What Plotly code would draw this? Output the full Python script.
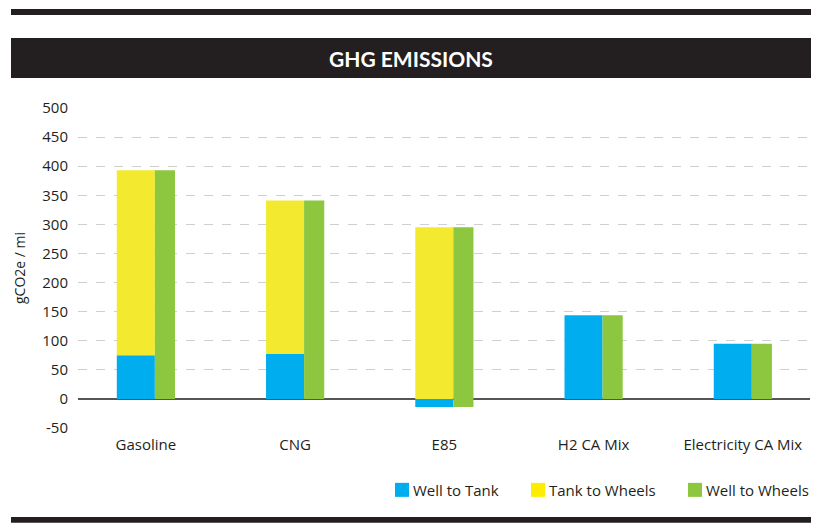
import plotly.graph_objects as go

categories = ["Gasoline", "CNG", "E85", "H2 CA Mix", "Electricity CA Mix"]
series_names = ["Well to Tank", "Tank to Wheels", "Well to Wheels"]
well_to_tank = [75, 77, -14, 144, 95]
tank_to_wheels = [318, 264, 295, 0, 0]
well_to_wheels = [393, 341, 295, 144, 95]
wtw_base = [0, 0, -14, 0, 0]
y_ticks = [-50, 0, 50, 100, 150, 200, 250, 300, 350, 400, 450, 500]
y_tick_labels = ["-50", "0", "50", "100", "150", "200", "250", "300", "350", "400", "450", "500"]

BLUE = "#00AEEF"
YELLOW = "#F3EA30"
GREEN = "#8DC63F"
LEGEND_COLORS = ["#00AEEF", "#FFED00", "#8DC63F"]
DARK = "#231F20"

OFF = 8  # page body margin
W, H = 822 - OFF, 529 - OFF
L, R, T, B = 78 - OFF, 810 - OFF, 108 - OFF, 427.7 - OFF

def px(x):
    return (x - OFF - L) / (R - L)

def py(y):
    return (B - (y - OFF)) / (B - T)

xs = list(range(len(categories)))
ttw_base = [v if v > 0 else 0 for v in well_to_tank]

fig = go.Figure()
fig.add_trace(go.Bar(
    x=xs, y=well_to_tank, name=series_names[0], marker_color=BLUE,
    width=0.255, offset=-0.195, marker_line_width=0,
))
fig.add_trace(go.Bar(
    x=xs, y=tank_to_wheels, base=ttw_base, name=series_names[1],
    marker_color=YELLOW, width=0.255, offset=-0.195, marker_line_width=0,
))
fig.add_trace(go.Bar(
    x=xs, y=[w - b for w, b in zip(well_to_wheels, wtw_base)], base=wtw_base,
    name=series_names[2], marker_color=GREEN,
    width=0.135, offset=0.06, marker_line_width=0,
))

shapes = [
    dict(type="rect", xref="paper", yref="paper", x0=px(11), x1=px(811),
         y0=py(15), y1=py(9), fillcolor=DARK, line_width=0, layer="above"),
    dict(type="rect", xref="paper", yref="paper", x0=px(11), x1=px(811),
         y0=py(78), y1=py(38), fillcolor=DARK, line_width=0, layer="above"),
    dict(type="rect", xref="paper", yref="paper", x0=px(11), x1=px(811),
         y0=py(522.3), y1=py(516.7), fillcolor=DARK, line_width=0, layer="above"),
]
annotations = [dict(
    text="<b>GHG EMISSIONS</b>", xref="paper", yref="paper",
    x=px(411), y=py(58.5), showarrow=False,
    font=dict(family="Lato", size=21, color="white"),
    xanchor="center", yanchor="middle",
)]

# legend (drawn manually to match compact swatch spacing)
legend_x = [395, 531, 688]
for name, col, lx in zip(series_names, LEGEND_COLORS, legend_x):
    shapes.append(dict(type="rect", xref="paper", yref="paper",
                       x0=px(lx), x1=px(lx + 14), y0=py(496.5), y1=py(482.5),
                       fillcolor=col, line_width=0))
    annotations.append(dict(text=name, xref="paper", yref="paper",
                            x=px(lx + 16), y=py(489.5), showarrow=False,
                            xanchor="left", yanchor="middle",
                            font=dict(size=15, color="#231F20")))

fig.update_layout(
    width=W, height=H,
    margin=dict(l=L, r=W - R, t=T, b=H - B, autoexpand=False),
    paper_bgcolor="white", plot_bgcolor="white",
    barmode="overlay",
    font=dict(family="Open Sans", size=15, color="#231F20"),
    shapes=shapes,
    annotations=annotations,
    showlegend=False,
    xaxis=dict(
        range=[-0.455, 4.45], tickvals=xs, ticktext=categories,
        showgrid=False, zeroline=False, showline=False, ticks="",
        tickfont=dict(size=15), automargin=False, ticklabelstandoff=6,
    ),
    yaxis=dict(
        range=[-50, 500], tickvals=y_ticks, ticktext=y_tick_labels, showgrid=True,
        gridcolor="#CFCFCF", griddash="dash", gridwidth=1,
        zeroline=True, zerolinecolor="#555555", zerolinewidth=1.5,
        showline=False, ticks="", tickfont=dict(size=15), automargin=False,
        ticklabelstandoff=9,
        title=dict(text="gCO2e / mi", font=dict(size=14), standoff=13),
    ),
)

fig.write_html("out.html")
